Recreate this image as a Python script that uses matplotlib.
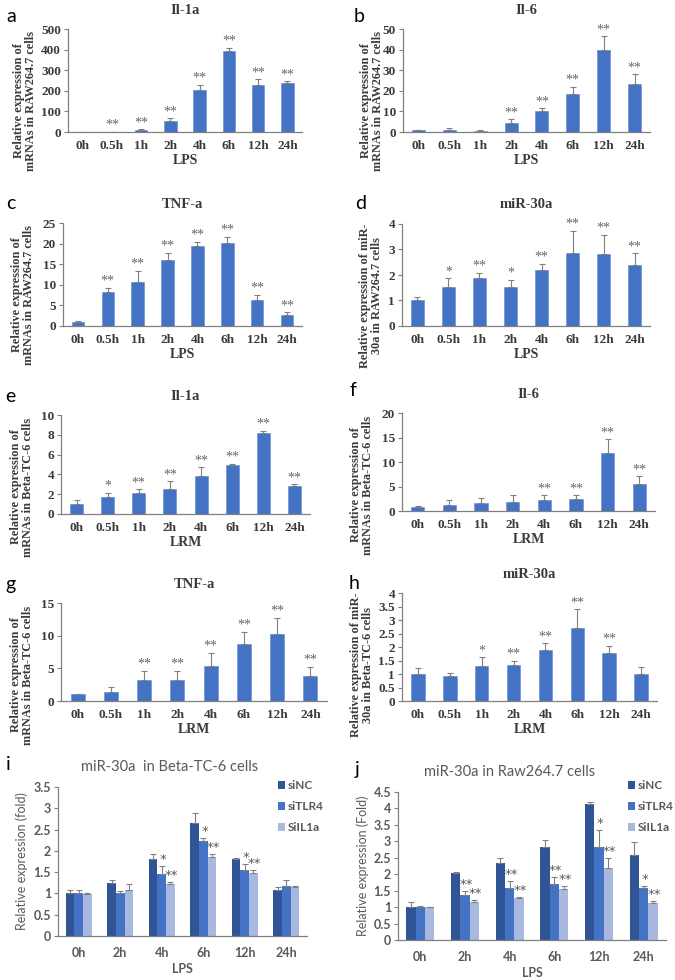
import numpy as np
import matplotlib.pyplot as plt

W, H = 675, 980
SERIF = 'Liberation Serif'
SANS = 'Lato'
BLUE = '#4472C4'
GREY = '#808080'
TXT = '#595959'

# time points
t8 = ['0h', '0.5h', '1h', '2h', '4h', '6h', '12h', '24h']
t6 = ['0h', '2h', '4h', '6h', '12h', '24h']

# a: Il-1a, RAW264.7, LPS
a_val = [1, 1.5, 10, 55, 203, 392, 228, 240]
a_err = [0, 0, 3, 12, 25, 17, 28, 7]
a_sig = ['', '**', '**', '**', '**', '**', '**', '**']
# b: Il-6, RAW264.7, LPS
b_val = [0.8, 1.2, 0.7, 4.5, 10, 18.5, 40, 23.5]
b_err = [0.3, 0.8, 0.4, 1.6, 1.5, 3.5, 6.5, 4.5]
b_sig = ['', '', '', '**', '**', '**', '**', '**']
# c: TNF-a, RAW264.7, LPS
c_val = [1.0, 8.3, 10.6, 16.1, 19.3, 20.2, 6.3, 2.7]
c_err = [0.2, 1.0, 2.8, 1.7, 1.2, 1.5, 1.3, 0.6]
c_sig = ['', '**', '**', '**', '**', '**', '**', '**']
# d: miR-30a, RAW264.7, LPS
d_val = [1.0, 1.52, 1.88, 1.52, 2.2, 2.88, 2.82, 2.4]
d_err = [0.15, 0.35, 0.2, 0.3, 0.25, 0.85, 0.75, 0.45]
d_sig = ['', '*', '**', '*', '**', '**', '**', '**']
# e: Il-1a, Beta-TC-6, LRM
e_val = [1.0, 1.7, 2.15, 2.5, 3.8, 4.95, 8.2, 2.8]
e_err = [0.4, 0.45, 0.35, 0.8, 0.9, 0.1, 0.2, 0.2]
e_sig = ['', '*', '**', '**', '**', '**', '**', '**']
# f: Il-6, Beta-TC-6, LRM
f_val = [0.9, 1.3, 1.6, 1.8, 2.2, 2.4, 11.8, 5.6]
f_err = [0.2, 1.0, 1.0, 1.5, 1.0, 0.8, 2.8, 1.5]
f_sig = ['', '', '', '', '**', '**', '**', '**']
# g: TNF-a, Beta-TC-6, LRM
g_val = [1.0, 1.4, 3.2, 3.2, 5.4, 8.8, 10.3, 3.9]
g_err = [0.1, 0.7, 1.4, 1.4, 2.0, 1.8, 2.4, 1.3]
g_sig = ['', '', '**', '**', '**', '**', '**', '**']
# h: miR-30a, Beta-TC-6, LRM
h_val = [1.0, 0.93, 1.3, 1.35, 1.88, 2.72, 1.77, 1.0]
h_err = [0.22, 0.1, 0.32, 0.15, 0.25, 0.68, 0.28, 0.27]
h_sig = ['', '', '*', '**', '**', '**', '**', '']

# i: miR-30a in Beta-TC-6 cells
groups = ['siNC', 'siTLR4', 'SiIL1a']
group_colors = ['#2F5597', '#4472C4', '#A9B8DE']
i_vals = [[1.0, 1.24, 1.81, 2.65, 1.81, 1.09],
          [1.0, 1.02, 1.45, 2.22, 1.56, 1.18],
          [0.99, 1.07, 1.21, 1.85, 1.49, 1.15]]
i_errs = [[0.08, 0.07, 0.12, 0.25, 0.03, 0.06],
          [0.08, 0.03, 0.2, 0.08, 0.13, 0.13],
          [0.02, 0.16, 0.07, 0.07, 0.06, 0.03]]
i_sigs = [['', '', '', '', '', ''],
          ['', '', '*', '*', '*', ''],
          ['', '', '**', '**', '**', '']]
# j: miR-30a in Raw264.7 cells
j_vals = [[1.0, 2.04, 2.35, 2.84, 4.12, 2.58],
          [1.0, 1.37, 1.58, 1.70, 2.82, 1.58],
          [1.0, 1.15, 1.28, 1.56, 2.2, 1.11]]
j_errs = [[0.15, 0.02, 0.13, 0.2, 0.07, 0.4],
          [0.03, 0.12, 0.22, 0.22, 0.52, 0.05],
          [0.01, 0.06, 0.03, 0.08, 0.3, 0.08]]
j_sigs = [['', '', '', '', '', ''],
          ['', '**', '**', '**', '*', '*'],
          ['', '**', '**', '**', '**', '**']]

fig = plt.figure(figsize=(6.75, 9.8), dpi=100)


def add_ax(left, top, right, bottom):
    return fig.add_axes([left / W, 1 - bottom / H, (right - left) / W, (bottom - top) / H])


def ftext(x, y, s, **kw):
    fig.text(x / W, 1 - y / H, s, **kw)


def base_style(ax, family, color, size):
    for s in ['top', 'right']:
        ax.spines[s].set_visible(False)
    for s in ['left', 'bottom']:
        ax.spines[s].set_color(GREY)
        ax.spines[s].set_linewidth(0.9)
    ax.tick_params(axis='x', length=0, pad=6)
    ax.tick_params(axis='y', length=3, width=0.8, color=GREY, pad=2)
    for lab in ax.get_xticklabels() + ax.get_yticklabels():
        lab.set_family(family)
        lab.set_color(color)
        lab.set_fontsize(size)
        lab.set_weight('bold')


def single_panel(box, vals, errs, sigs, ymax, step, title, ylabel, ylab_x, xlabel, letter, letter_xy):
    ax = add_ax(*box)
    x = np.arange(len(t8))
    ax.bar(x, vals, width=0.42, color=BLUE, edgecolor='#6f93d6', linewidth=0.5)
    ax.errorbar(x, vals, yerr=[np.zeros(len(x)), errs], fmt='none', ecolor=GREY,
                elinewidth=0.8, capsize=2.5, capthick=0.8)
    for xi, v, e, s in zip(x, vals, errs, sigs):
        if s:
            ax.text(xi, v + e, s, ha='center', va='bottom',
                    fontsize=10, color='#666666', family=SERIF)
    ax.set_xlim(-0.5, len(t8) - 0.5)
    ax.set_ylim(0, ymax)
    ticks = np.arange(0, ymax + step / 2, step)
    ax.set_yticks(ticks)
    ax.set_yticklabels([f'{t:g}' for t in ticks])
    ax.set_xticks(x)
    ax.set_xticklabels(t8)
    base_style(ax, SERIF, '#3a3a3a', 9.5)
    left, top, right, bottom = box
    ax.set_xlabel(xlabel, family=SERIF, weight='bold', fontsize=10, color='#3a3a3a', labelpad=1)
    ftext((left + right) / 2, top - 19, title, family=SERIF, weight='bold', fontsize=10.5,
          color='#3a3a3a', ha='center', va='center')
    ftext(ylab_x, top + 72, ylabel, family=SERIF, weight='bold', fontsize=8.8, color='#3a3a3a',
          rotation=90, ha='center', va='center', linespacing=0.9)
    ftext(letter_xy[0], letter_xy[1], letter, family=SANS, fontsize=14, ha='left', va='center')
    return ax


def group_panel(box, vals, errs, sigs, ymax, title, ylabel, ylab_x, letter, letter_xy, leg_xy):
    ax = add_ax(*box)
    x = np.arange(len(t6))
    w = 0.21
    for k in range(3):
        xk = x + (k - 1) * w
        ax.bar(xk, vals[k], width=w, color=group_colors[k], label=groups[k])
        ax.errorbar(xk, vals[k], yerr=[np.zeros(len(x)), errs[k]], fmt='none', ecolor=GREY,
                    elinewidth=0.8, capsize=2.5, capthick=0.8)
        for xi, v, e, s in zip(xk, vals[k], errs[k], sigs[k]):
            if s:
                ax.text(xi + 0.03, v + e, s, ha='center', va='bottom',
                        fontsize=9.5, color=TXT, family='DejaVu Sans')
    ax.set_xlim(-0.5, len(t6) - 0.5)
    ax.set_ylim(0, ymax)
    ticks = np.arange(0, ymax + 0.25, 0.5)
    ax.set_yticks(ticks)
    ax.set_yticklabels([f'{t:g}' for t in ticks])
    ax.set_xticks(x)
    ax.set_xticklabels(t6)
    base_style(ax, SANS, TXT, 9)
    ax.tick_params(axis='x', pad=8)
    left, top, right, bottom = box
    ax.set_xlabel('LPS', family=SANS, fontsize=9, color=TXT, weight='bold', labelpad=3)
    ftext(170 if left < 300 else 510, top - 20, title, family=SANS, fontsize=10.5, color=TXT,
          ha='center', va='center')
    ftext(ylab_x, (top + bottom) / 2, ylabel, family=SANS, fontsize=9, color=TXT,
          rotation=90, ha='center', va='center')
    ftext(letter_xy[0], letter_xy[1], letter, family=SANS, fontsize=14, ha='left', va='center')
    leg = ax.legend(loc='upper left', bbox_to_anchor=(leg_xy[0] / W, 1 - leg_xy[1] / H),
                    bbox_transform=fig.transFigure, frameon=False, handlelength=0.6,
                    handleheight=0.6, handletextpad=0.25, labelspacing=0.85, borderpad=0,
                    borderaxespad=0, prop={'family': SANS, 'size': 8.5, 'weight': 'bold'})
    for t in leg.get_texts():
        t.set_color(TXT)
    return ax


lab_raw = 'Relative expression of\nmRNAs in RAW264.7 cells'
lab_raw_mir = 'Relative expression of miR-\n30a in RAW264.7 cells'
lab_beta = 'Relative expression of\nmRNAs in Beta-TC-6 cells'
lab_beta_mir = 'Relative expression of miR-\n30a in Beta-TC-6 cells'

single_panel((68, 29, 302, 132), a_val, a_err, a_sig, 500, 100, 'Il-1a', lab_raw, 25, 'LPS', 'a', (6, 17))
single_panel((403, 29, 650, 132), b_val, b_err, b_sig, 50, 10, 'Il-6', lab_raw, 372, 'LPS', 'b', (354, 17))
single_panel((63, 223, 302, 326), c_val, c_err, c_sig, 25, 5, 'TNF-a', lab_raw, 23, 'LPS', 'c', (6, 203))
single_panel((402, 224, 650, 326), d_val, d_err, d_sig, 4, 1, 'miR-30a', lab_raw_mir, 371, 'LPS', 'd', (355, 203))
single_panel((61, 415, 310, 514), e_val, e_err, e_sig, 10, 2, 'Il-1a', lab_beta, 22, 'LRM', 'e', (5, 397))
single_panel((402, 413, 655, 511), f_val, f_err, f_sig, 20, 5, 'Il-6', lab_beta, 362, 'LRM', 'f', (350, 390))
single_panel((61, 603, 327, 701), g_val, g_err, g_sig, 15, 5, 'TNF-a', lab_beta, 22, 'LRM', 'g', (5, 584))
single_panel((402, 593, 657, 701), h_val, h_err, h_sig, 4, 0.5, 'miR-30a', lab_beta_mir, 362, 'LRM', 'h', (349, 583))

group_panel((58, 787, 307, 936), i_vals, i_errs, i_sigs, 3.5, 'miR-30a  in Beta-TC-6 cells',
            'Relative expression (fold)', 22, 'i', (6, 764), (278, 780))
group_panel((398, 792, 666, 940), j_vals, j_errs, j_sigs, 4.5, 'miR-30a in Raw264.7 cells',
            'Relative expression (Fold)', 363, 'j', (355, 769), (628, 780))

fig.savefig('out.png', dpi=100)
